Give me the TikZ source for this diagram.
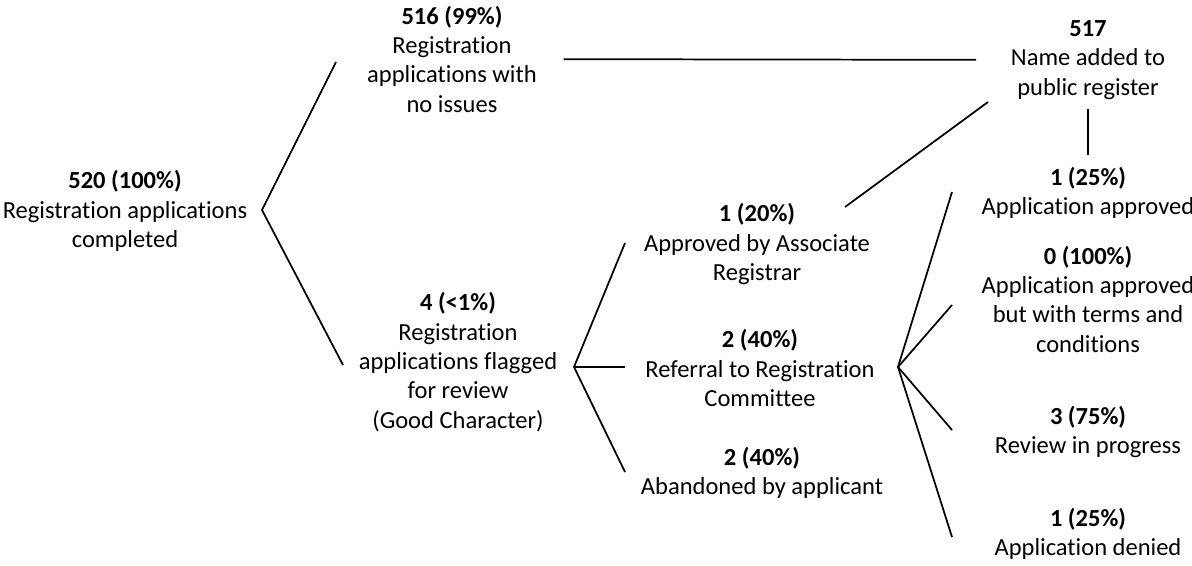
\documentclass[tikz,border=0pt]{standalone}
\usepackage{fontspec}
\setmainfont{Carlito}[Ligatures=NoCommon]
\begin{document}
\begin{tikzpicture}[x=0.75pt,y=-0.75pt,
    lbl/.style={align=center,inner sep=0pt,font=\fontsize{18.4}{22}\selectfont},
    branch/.style={line width=1.3pt}]
    \useasboundingbox (0,0) rectangle (1192,565);
    \node[lbl] (root) at (125,211) {\textbf{520 (100\%)}\\Registration applications\\completed};
    \node[lbl] (ok) at (452,59) {\textbf{516 (99\%)}\\Registration\\applications with\\no issues};
    \node[lbl] (pub) at (1088,60) {\textbf{517}\\Name added to\\public register};
    \node[lbl] (flag) at (458,362) {\textbf{4 (<1\%)}\\Registration\\applications flagged\\for review\\(Good Character)};
    \node[lbl] (assoc) at (757,244) {\textbf{1 (20\%)}\\Approved by Associate\\Registrar};
    \node[lbl] (ref) at (760,368) {\textbf{2 (40\%)}\\Referral to Registration\\Committee};
    \node[lbl] (aband) at (762,473) {\textbf{2 (40\%)}\\Abandoned by applicant};
    \node[lbl] (appr) at (1088,193) {\textbf{1 (25\%)}\\Application approved};
    \node[lbl] (terms) at (1088,299) {\textbf{0 (100\%)}\\Application approved\\but with terms and\\conditions};
    \node[lbl] (prog) at (1088,432) {\textbf{3 (75\%)}\\Review in progress};
    \node[lbl] (deny) at (1088,534) {\textbf{1 (25\%)}\\Application denied};
    % branch points and line ends
    \coordinate (rootfork) at (262,210);
    \coordinate (okin) at (336,62);
    \coordinate (flagin) at (343,365);
    \coordinate (flagfork) at (574,367);
    \coordinate (associn) at (625,243);
    \coordinate (refin) at (625,367);
    \coordinate (abandin) at (625,472);
    \coordinate (assocout) at (845,207);
    \coordinate (pubin) at (988,102);
    \coordinate (reffork) at (898,367);
    \coordinate (apprin) at (952,192);
    \coordinate (termsin) at (952,305);
    \coordinate (progin) at (952,430);
    \coordinate (denyin) at (952,537);
    \draw[branch] (okin) -- (rootfork) -- (flagin);
    \draw[branch,shorten <=20pt,shorten >=26pt] (ok) -- (pub);
    \draw[branch,shorten <=7pt,shorten >=9pt] (pub) -- (appr);
    \draw[branch] (assocout) -- (pubin);
    \draw[branch] (associn) -- (flagfork) -- (abandin);
    \draw[branch] (flagfork) -- (refin);
    \draw[branch] (apprin) -- (reffork) -- (denyin);
    \draw[branch] (termsin) -- (reffork) -- (progin);
\end{tikzpicture}
\end{document}
